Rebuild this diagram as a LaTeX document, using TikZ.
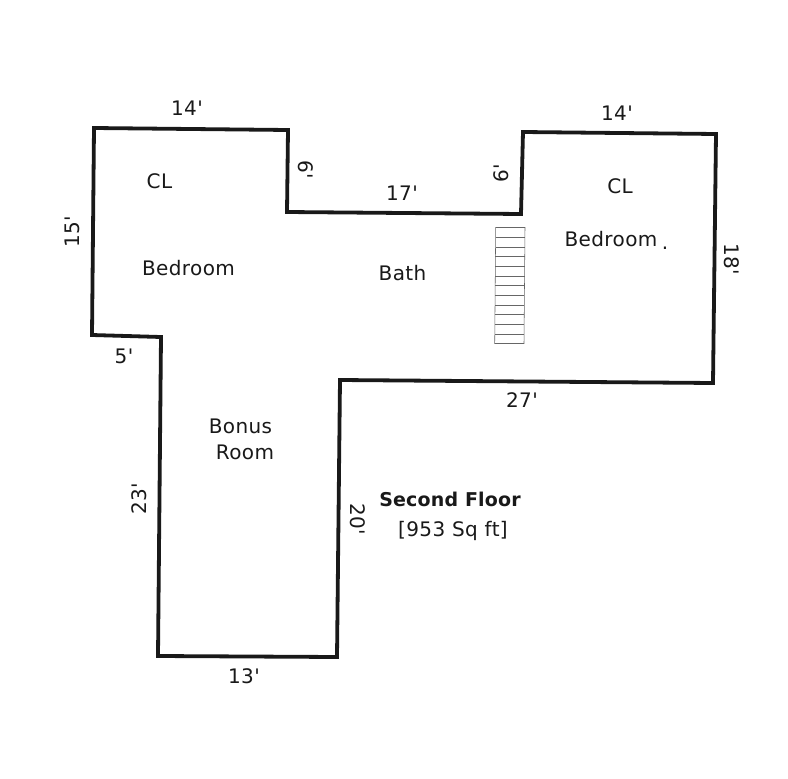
\documentclass[tikz,border=0pt]{standalone}
\usepackage{fontspec}
\usetikzlibrary{calc}
\newfontfamily\planfont{DejaVu Sans}[LetterSpace=2]
\newfontfamily\planbold{DejaVu Sans Bold}[LetterSpace=1]
\tikzset{
  wall/.style={line width=3.8pt,draw=black!90,line join=miter},
  stair/.style={line width=0.55pt,draw=black!60},
  lbl/.style={font=\planfont\fontsize{20}{22}\selectfont,text=black!90,inner sep=0pt,anchor=center},
  boldlbl/.style={lbl,font=\planbold\fontsize{19}{22}\selectfont},
}
\begin{document}
\begin{tikzpicture}[x=1pt,y=-1pt]
\useasboundingbox (0,0) rectangle (788,779);
\fill[white] (0,0) rectangle (788,779);
% outline corners
\coordinate (p1) at (94,128);
\coordinate (p2) at (288,130);
\coordinate (p3) at (287,212);
\coordinate (p4) at (521,214);
\coordinate (p5) at (523,132);
\coordinate (p6) at (716,134);
\coordinate (p7) at (713,383);
\coordinate (p8) at (340,380);
\coordinate (p9) at (337,657);
\coordinate (p10) at (158,656);
\coordinate (p11) at (161,337);
\coordinate (p12) at (92,335);
\draw[wall] (p1)--(p2)--(p3)--(p4)--(p5)--(p6)--(p7)--(p8)--(p9)--(p10)--(p11)--(p12)--cycle;
% stairs
\coordinate (s1) at (495.7,227.5);
\coordinate (s2) at (525,227.5);
\coordinate (s3) at (524,343.5);
\coordinate (s4) at (494.7,343.5);
\draw[stair] (s1)--(s2)--(s3)--(s4)--cycle;
\foreach \i in {1,...,11}{
  \draw[stair] ($(s1)!{\i/12}!(s4)$)--($(s2)!{\i/12}!(s3)$);
}
% room labels
\node[lbl] (cl1) at (159.5,181) {CL};
\node[lbl] (cl2) at (620,186.5) {CL};
\node[lbl] (bed1) at (188.5,268.5) {Bedroom};
\node[lbl] (bed2) at (611,239.5) {Bedroom};
\node[lbl] (dot) at (665,248) {.};
\node[lbl] (bath) at (402.5,273.5) {Bath};
\node[lbl] (bonus1) at (240.5,426.5) {Bonus};
\node[lbl] (bonus2) at (245,452.5) {Room};
\node[boldlbl] (title) at (450,499) {Second Floor};
\node[lbl] (area) at (453,531) {[953 Sq ft]};
% dimensions
\node[lbl] (d14a) at (187,108) {14'};
\node[lbl] (d14b) at (617,113) {14'};
\node[lbl] (d17) at (402,193.5) {17'};
\node[lbl,rotate=-90] (d6a) at (306,170) {6'};
\node[lbl,rotate=90] (d6b) at (501,173) {6'};
\node[lbl,rotate=90] (d15) at (72,232) {15'};
\node[lbl] (d5) at (124,356) {5'};
\node[lbl,rotate=90] (d23) at (139,499) {23'};
\node[lbl,rotate=-90] (d20) at (358,519) {20'};
\node[lbl,rotate=-90] (d18) at (732,259) {18'};
\node[lbl] (d27) at (522,400) {27'};
\node[lbl] (d13) at (244,676) {13'};
\end{tikzpicture}
\end{document}
